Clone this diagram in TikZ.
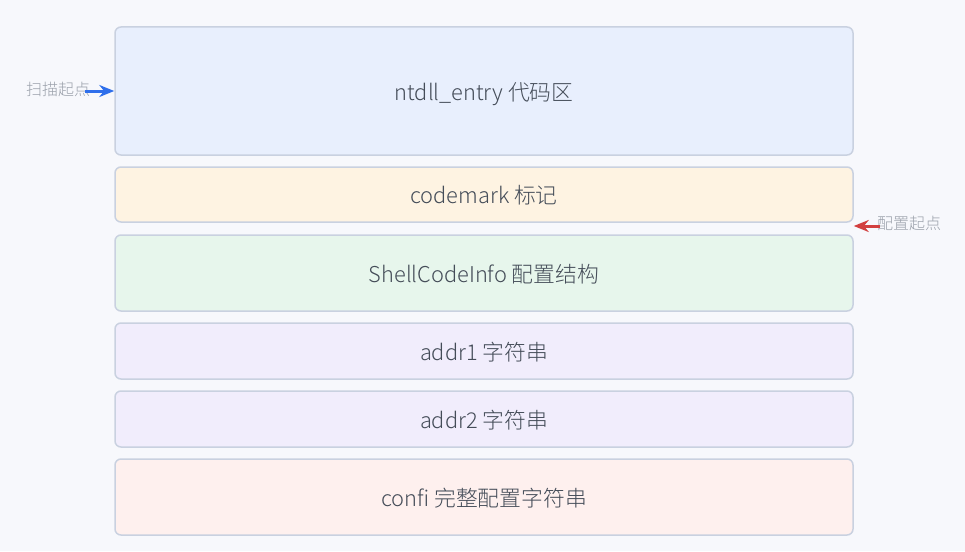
\documentclass[tikz,border=0pt]{standalone}
\usepackage{fontspec}
\setmainfont{Noto Sans CJK SC}[UprightFont={* Light}]
\usetikzlibrary{arrows.meta}
\usetikzlibrary{positioning}
\definecolor{bgcol}{HTML}{F7F8FC}
\definecolor{edgecol}{HTML}{C9D1E0}
\definecolor{txtcol}{HTML}{444C58}
\definecolor{lblcol}{HTML}{9AA0AA}
\definecolor{bluefill}{HTML}{E8EFFD}
\definecolor{orangefill}{HTML}{FEF3E2}
\definecolor{greenfill}{HTML}{E7F6EC}
\definecolor{purplefill}{HTML}{F1EDFC}
\definecolor{redfill}{HTML}{FEF0EE}
\definecolor{scanblue}{HTML}{2F6FEB}
\definecolor{cfgred}{HTML}{D23F3F}
\tikzset{
  region/.style={draw=edgecol, line width=1.5pt, rounded corners=6pt,
    minimum width=738pt, text=txtcol, text height=18.5pt, text depth=0pt,
    font=\fontsize{21.8}{26}\selectfont},
  sidelbl/.style={text=lblcol, font=\fontsize{16}{18}\selectfont, inner sep=0pt}
}
\begin{document}
\begin{tikzpicture}[x=1pt, y=-1pt, >={Stealth[length=15pt,width=12pt]}]
\fill[bgcol] (0,0) rectangle (965,551);
\useasboundingbox (0,0) rectangle (965,551);

%memory layout
\node[region, fill=bluefill, minimum height=128pt] (entry) at (484,91) {ntdll\_entry 代码区};
\node[region, fill=orangefill, minimum height=55pt] (mark) at (484,194.5) {codemark 标记};
\node[region, fill=greenfill, minimum height=76pt] (info) at (484,273) {ShellCodeInfo 配置结构};
\node[region, fill=purplefill, minimum height=56pt] (addra) at (484,351) {addr1 字符串};
\node[region, fill=purplefill, minimum height=56pt] (addrb) at (484,419) {addr2 字符串};
\node[region, fill=redfill, minimum height=76pt] (confi) at (484,497) {confi 完整配置字符串};

%start points
\node[sidelbl, anchor=west] (scanlbl) at (26,89) {扫描起点};
\coordinate (scanfrom) at (85,91);
\draw[->, scanblue, line width=3pt] (scanfrom) -- (entry.west |- scanfrom);

\node[sidelbl, anchor=west] (cfglbl) at (877,223) {配置起点};
\coordinate (cfgfrom) at (880,226);
\draw[->, cfgred, line width=3pt] (cfgfrom) -- (entry.east |- cfgfrom);
\end{tikzpicture}
\end{document}
